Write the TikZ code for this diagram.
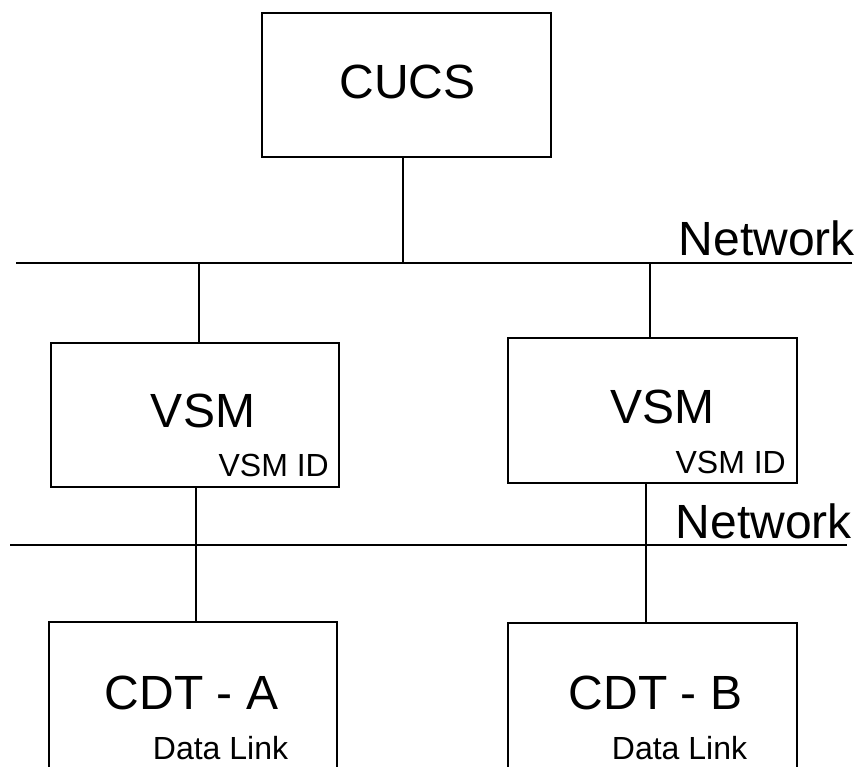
\documentclass[tikz,border=0pt]{standalone}
\usepackage{fontspec}
\setmainfont{Liberation Sans}
\begin{document}
\begin{tikzpicture}[x=1pt,y=-1pt,
  box/.style={draw=black,line width=1.8pt,fill=none,inner sep=0pt},
  conn/.style={draw=black,line width=1.4pt},
  big/.style={inner sep=0pt,font=\fontsize{48}{58}\selectfont},
  small/.style={inner sep=0pt,font=\fontsize{32}{38}\selectfont}]
\useasboundingbox (0,0) rectangle (861,766);
\clip (0,0) rectangle (861,766);
% boxes
\node[box,minimum width=289pt,minimum height=144pt] (cucs) at (406.5,85) {};
\node[box,minimum width=288pt,minimum height=144pt] (vsmL) at (195,415) {};
\node[box,minimum width=289pt,minimum height=145pt] (vsmR) at (652.5,410.5) {};
\node[box,minimum width=288pt,minimum height=178pt] (cdtA) at (193,711) {};
\node[box,minimum width=289pt,minimum height=178pt] (cdtB) at (652.5,712) {};
% texts
\node[big,anchor=base] (tcucs) at (407.5,98) {CUCS};
\node[big,anchor=base] (tvsmL) at (203,427) {VSM};
\node[small,anchor=base east] (idL) at (329,476) {VSM ID};
\node[big,anchor=base] (tvsmR) at (662,423) {VSM};
\node[small,anchor=base east] (idR) at (786,473) {VSM ID};
\node[big,anchor=base] (tcdtA) at (191.5,709) {CDT - A};
\node[small,anchor=base] (dlA) at (220.5,759) {Data Link};
\node[big,anchor=base] (tcdtB) at (655.5,709) {CDT - B};
\node[small,anchor=base] (dlB) at (679.5,759) {Data Link};
% networks
\coordinate (net1W) at (16,263);
\coordinate (net1E) at (852,263);
\coordinate (net2W) at (10,545);
\coordinate (net2E) at (847,545);
\draw[conn] (net1W) -- (net1E);
\draw[conn] (net2W) -- (net2E);
\node[big,anchor=base east] (netlab1) at (855,255) {Network};
\node[big,anchor=base east] (netlab2) at (852,538) {Network};
% junctions
\coordinate (j0) at (403,263);
\coordinate (j1) at (199,263);
\coordinate (j2) at (650,263);
\coordinate (j3) at (196,545);
\coordinate (j4) at (646,545);
\draw[conn] (cucs.south -| j0) -- (j0);
\draw[conn] (j1) -- (vsmL.north -| j1);
\draw[conn] (j2) -- (vsmR.north -| j2);
\draw[conn] (vsmL.south -| j3) -- (cdtA.north -| j3);
\draw[conn] (vsmR.south -| j4) -- (cdtB.north -| j4);
\end{tikzpicture}
\end{document}
